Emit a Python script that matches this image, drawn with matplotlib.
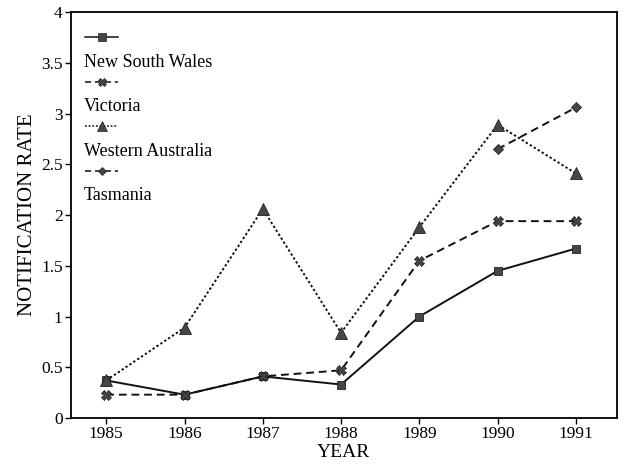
import numpy as np
import matplotlib.pyplot as plt

years = [1985, 1986, 1987, 1988, 1989, 1990, 1991]
nsw = [0.37, 0.23, 0.41, 0.33, 1.00, 1.45, 1.67]
vic = [0.23, 0.23, 0.41, 0.47, 1.55, 1.94, 1.94]
wa = [0.37, 0.89, 2.06, 0.84, 1.88, 2.89, 2.41]
tas_years = [1990, 1991]
tas = [2.65, 3.06]

names = ['New South Wales', 'Victoria', 'Western Australia', 'Tasmania']

plt.rcParams['font.family'] = ['Liberation Serif', 'DejaVu Serif']

fig = plt.figure(figsize=(6.25, 4.66), dpi=100)
ax = fig.add_axes([0.1136, 0.103, 0.873, 0.871])

mc = '#4a4540'
styles = [
    dict(ls='-', marker='s', ms=6),
    dict(ls=(0, (4, 2.5)), marker='X', ms=7),
    dict(ls=(0, (1.2, 1.2)), marker='^', ms=8),
    dict(ls=(0, (4, 2.5)), marker='D', ms=5),
]
series = [(years, nsw), (years, vic), (years, wa), (tas_years, tas)]

for (xs, ys), st in zip(series, styles):
    ax.plot(xs, ys, color='#111111', lw=1.4, mfc=mc, mec='#222222', mew=0.6, **st)

# legend: sample line above each name
for i, (name, st) in enumerate(zip(names, styles)):
    y0 = 0.938 - i * 0.1096
    ax.plot([0.026, 0.056, 0.086], [y0, y0, y0], transform=ax.transAxes,
            color='#111111', lw=1.1, mfc=mc, mec='#222222', mew=0.5,
            markevery=[1], ls=st['ls'], marker=st['marker'], ms=st['ms'] * 0.85)
    ax.text(0.024, y0 - 0.061, name, transform=ax.transAxes, fontsize=13,
            va='center', ha='left')

ax.set_xlim(1984.55, 1991.52)
ax.set_ylim(0, 4)
ax.set_xticks(years)
ax.set_yticks([0, 0.5, 1, 1.5, 2, 2.5, 3, 3.5, 4])
ax.set_yticklabels(['0', '0.5', '1', '1.5', '2', '2.5', '3', '3.5', '4'])
ax.tick_params(direction='out', length=4, width=1, labelsize=12.5, pad=2)
for s in ax.spines.values():
    s.set_linewidth(1.3)

ax.set_xlabel('YEAR', fontsize=14, labelpad=1)
ax.set_ylabel('NOTIFICATION RATE', fontsize=15, labelpad=3)

fig.savefig('out.png', dpi=100)
